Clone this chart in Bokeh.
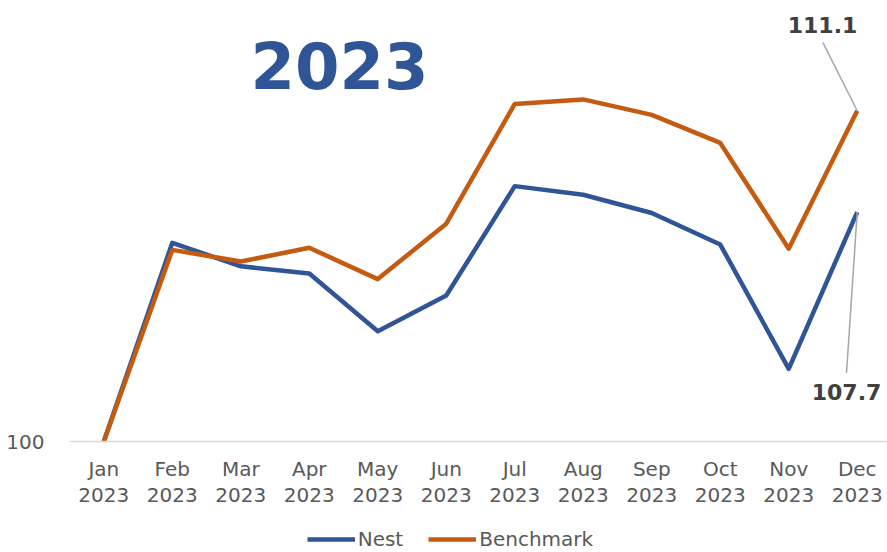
from bokeh.plotting import figure
from bokeh.models import FixedTicker, Label, Legend, LegendItem, Range1d
from bokeh.embed import file_html
from bokeh.resources import INLINE

# ---- data ----
months = ["Jan", "Feb", "Mar", "Apr", "May", "Jun", "Jul", "Aug", "Sep", "Oct", "Nov", "Dec"]
year = "2023"
nest = [100.0, 106.67, 105.88, 105.64, 103.70, 104.90, 108.57, 108.28, 107.67, 106.61, 102.44, 107.7]
benchmark = [100.0, 106.43, 106.04, 106.50, 105.45, 107.31, 111.33, 111.48, 110.96, 110.02, 106.47, 111.1]
y_ticks = [100]
base_value = 100

xs = list(range(len(months)))
FONT = "DejaVu Sans"
GREY = "#595959"
NEST_C = "#2f5597"
BENCH_C = "#c55a11"

p = figure(width=887, height=552, output_backend="svg", toolbar_location=None,
           x_range=Range1d(-0.501, 11.442), y_range=Range1d(96.275, 114.80),
           min_border_left=69, min_border_right=0, min_border_top=0, min_border_bottom=0)
p.outline_line_color = None
p.background_fill_color = "white"
p.border_fill_color = "white"
p.grid.visible = False

r_nest = p.line(xs, nest, line_color=NEST_C, line_width=4.5, line_join="round")
r_bench = p.line(xs, benchmark, line_color=BENCH_C, line_width=4.5, line_join="round")

# x axis, pinned at the base value
xa = p.xaxis[0]
xa.fixed_location = base_value
xa.ticker = FixedTicker(ticks=xs)
xa.major_label_overrides = {i: f"{m}\n{year}" for i, m in enumerate(months)}
xa.axis_line_color = "#d9d9d9"
xa.axis_line_width = 1.5
xa.major_tick_line_color = None
xa.minor_tick_line_color = None
xa.major_label_text_font = FONT
xa.major_label_text_font_size = "20px"
xa.major_label_text_color = GREY
xa.major_label_text_line_height = 1.1
xa.major_label_standoff = 9

# y axis
ya = p.yaxis[0]
ya.ticker = FixedTicker(ticks=y_ticks)
ya.axis_line_color = None
ya.major_tick_line_color = None
ya.minor_tick_line_color = None
ya.major_label_text_font = FONT
ya.major_label_text_font_size = "20px"
ya.major_label_text_color = GREY
ya.major_label_standoff = 19

# title inside plot
p.add_layout(Label(x=270, y=487, x_units="screen", y_units="screen", text=year,
                   text_font=FONT, text_font_size="64px", text_font_style="bold",
                   text_color=NEST_C, text_align="center", text_baseline="middle"))

# data labels with leader lines
px_x = 68.49
px_y = 29.8
last = len(months) - 1
p.segment(x0=[last, last], y0=[benchmark[-1], nest[-1]],
          x1=[last - 34.4 / px_x, last - 10.7 / px_x],
          y1=[benchmark[-1] + 68.3 / px_y, nest[-1] - 160.7 / px_y],
          line_color="#a6a6a6", line_width=1.5)
p.add_layout(Label(x=last, y=benchmark[-1], x_offset=-34.7, y_offset=86,
                   text=f"{benchmark[-1]:.1f}", text_font=FONT, text_font_size="22px",
                   text_font_style="bold", text_color="#404040",
                   text_align="center", text_baseline="middle"))
p.add_layout(Label(x=last, y=nest[-1], x_offset=-10.7, y_offset=-180,
                   text=f"{nest[-1]:.1f}", text_font=FONT, text_font_size="22px",
                   text_font_style="bold", text_color="#404040",
                   text_align="center", text_baseline="middle"))

legend = Legend(items=[LegendItem(label="Nest", renderers=[r_nest]),
                       LegendItem(label="Benchmark", renderers=[r_bench])],
                orientation="horizontal", location=(237.7, 1),
                glyph_width=48, glyph_height=20, label_standoff=3, spacing=25,
                padding=0, margin=0, border_line_color=None, background_fill_alpha=0,
                label_text_font=FONT, label_text_font_size="20px", label_text_color=GREY)
p.add_layout(legend, "center")

open("out.html", "w").write(file_html(p, INLINE))
